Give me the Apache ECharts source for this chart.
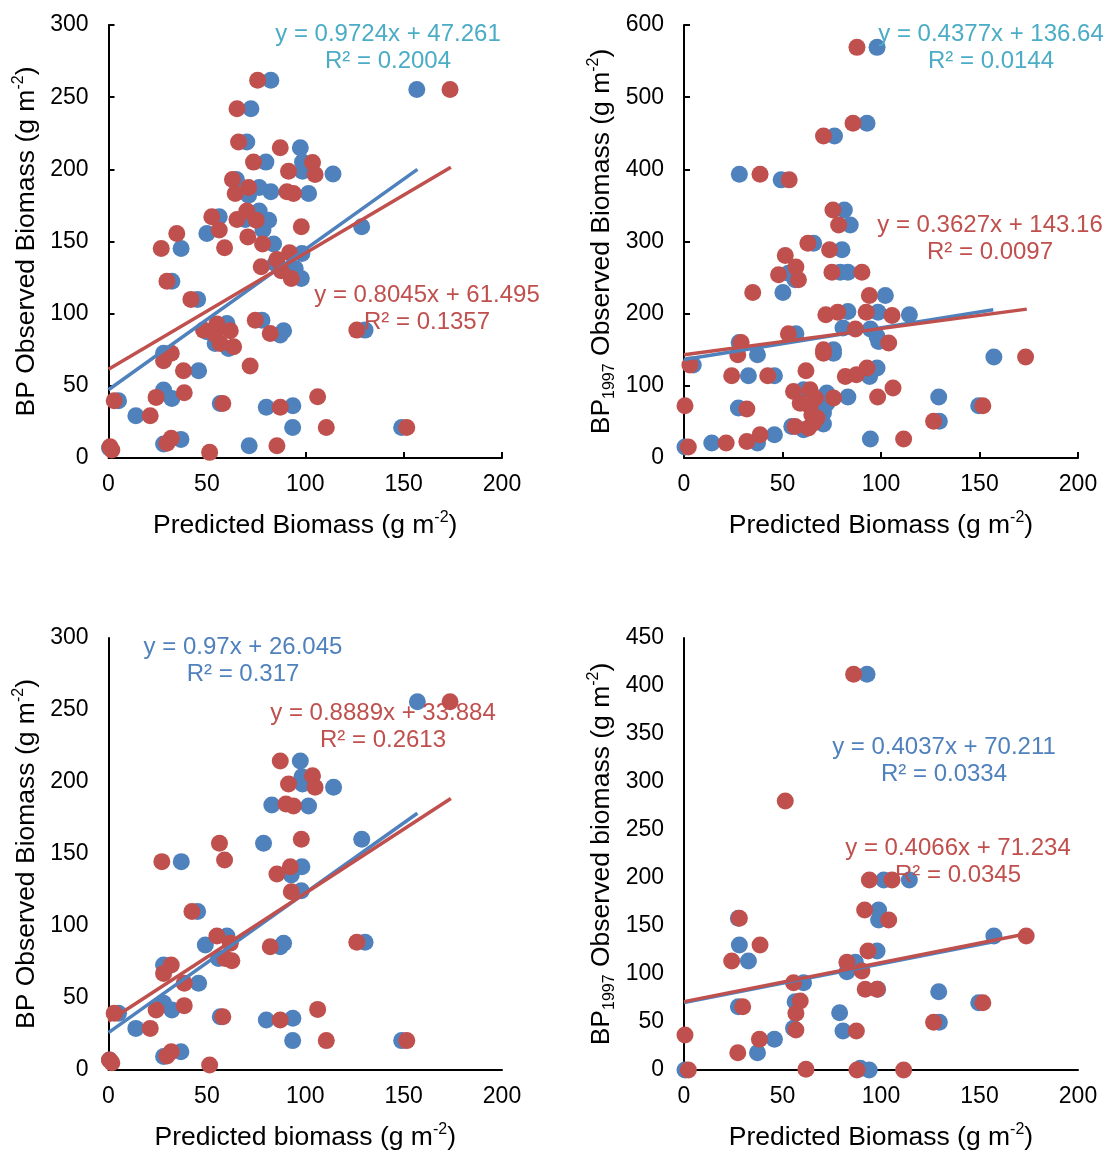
<!DOCTYPE html>
<html>
<head>
<meta charset="utf-8">
<script src="https://cdn.jsdelivr.net/npm/echarts@6/dist/echarts.min.js"></script>
<style>
  html, body { margin: 0; padding: 0; background: #fff; }
  #chart { width: 1107px; height: 1153px; }
</style>
</head>
<body>
<div id="chart"></div>
<script>
// ---- data ----
const xTicks = [0, 50, 100, 150, 200];

// panel 1 (top left): BP vs predicted
const p1Blue = [[82.5,261.7],[72.4,242],[70.3,219],[97.5,214.9],[80,205],[98.6,205],[98.6,198.7],[114.1,196.7],[65,193],[76.6,187.4],[71.2,182.1],[82.5,184.4],[101.7,183.2],[56.3,167.1],[76.6,171.2],[69.5,165.2],[81.4,164.8],[50,155.5],[78.5,157.9],[128.7,160.2],[83.9,148.2],[36.9,145.2],[156.7,255.3],[98.3,141.7],[94.9,131.3],[98,124.4],[84.7,134.8],[32.2,122.5],[45.3,109.9],[78,95.5],[89,88.2],[87.3,85.2],[130.4,88.6],[60.2,93.2],[50,87.5],[54.2,79.4],[61,75.9],[28,72.5],[45.8,60.5],[28,47.1],[32.2,41.3],[5.1,39.7],[13.9,29.3],[56.8,37.8],[80.2,35.1],[93.7,36.2],[93.6,21.2],[149,21.2],[28,9.7],[36.8,12.9],[71.5,8.5],[0.5,7]];
const p1Red = [[75.8,261.7],[65.3,242],[66.1,219],[87.3,214.9],[73.7,205],[91.5,198.7],[103.7,204.7],[105,196.4],[63,193],[71.2,187.4],[64.4,183.2],[90.7,184.4],[94,183.2],[52.5,167.1],[70.3,171.2],[65.3,165.2],[75.1,164.8],[56.3,157.9],[70.8,153.2],[78.3,148.2],[34.7,155.5],[26.8,145.2],[59,145.6],[98,160.2],[173.6,255.3],[77.6,132.5],[85.6,137.5],[92,142.2],[87.8,129.7],[92.9,124.4],[29.7,122.5],[41.9,109.9],[74.6,95.5],[82.2,86.3],[126.2,88.6],[55.1,92.8],[48.3,88.6],[61.9,88.2],[54.2,85.6],[56.8,79.4],[63.6,77.1],[72,63.7],[31.9,72.5],[28,67.4],[38.1,60.5],[24.2,42],[38.5,45.2],[2.9,39.7],[21.2,29.3],[58.1,37.8],[87.3,35.1],[106.3,42.5],[110.7,21.2],[151.6,21.2],[29.7,10.2],[31.9,13.6],[85.6,8.5],[0.8,7.8],[1.7,5.5],[51.4,3.9]];
const p1BlueTrend = [[0, 47.3], [157, 200]];
const p1RedTrend = [[0, 61.5], [174, 201.5]];
const p1BlueEq = ['y = 0.9724x + 47.261', 'R² = 0.2004'];
const p1RedEq = ['y = 0.8045x + 61.495', 'R² = 0.1357'];

// panel 2 (top right): BP1997 vs predicted
const p2Blue = [[98,569],[92.9,463.8],[76.4,446.3],[28.1,393.2],[49.3,385.4],[81.4,343.8],[84.4,323],[65.8,297.7],[80.2,288.5],[56.4,246.9],[53,256],[79.3,257.5],[83.2,257.5],[50.2,229.4],[102.2,225.2],[83.2,203],[98.5,202],[114.4,198.5],[56.8,172],[94.6,178.6],[80.7,180],[98,168.5],[98.8,161.5],[37.3,143],[75.9,150],[75.9,145],[4.7,129],[32.7,114],[45.9,114],[98,124.6],[94.2,113],[83.2,84.5],[129.3,84.5],[129.6,50.8],[149.6,72.5],[157.3,139.8],[94.6,26.3],[60.7,94.6],[72.5,90],[70.8,69.2],[70.8,62.3],[70.8,47],[54.7,43.8],[60.7,39.2],[72.5,76],[27.6,69.2],[14.1,20.8],[37.3,20.8],[45.9,32.3],[0.5,15.2],[28,160]];
const p2Red = [[87.8,569],[85.8,463.8],[70.8,446.3],[38.6,393.2],[53.4,385.4],[75.6,343.8],[78.5,323],[62.9,297.7],[73.9,288.5],[51.4,280.6],[56.8,264.5],[48,253.8],[58.1,246.9],[75.1,257.5],[90.3,257.5],[34.9,229.4],[94.1,225.2],[72,198.5],[78,202],[92.5,202],[105.6,197.5],[53,172],[87,178.6],[103.9,159.2],[29,160.2],[27.3,143],[70.8,150],[70.8,145],[3,129],[24.2,114],[42.5,114],[61.9,121],[81.9,113],[87.5,115.4],[92.9,124.6],[106.1,96.9],[98.3,84.5],[75.9,83],[55.6,92.3],[64,94.6],[66.6,83],[59,76],[64,71.5],[64.9,60],[65.8,48.5],[56.4,43.8],[63.2,41.5],[67.5,55.4],[0.5,72.5],[31.9,67.8],[21.4,20.8],[31.9,23],[38.6,32.3],[2.2,15.2],[126.7,50.8],[151.7,72.5],[173.4,139.8],[111.5,26.3]];
const p2BlueTrend = [[0, 136.6], [157, 205.4]];
const p2RedTrend = [[0, 143.2], [174, 206.3]];
const p2BlueEq = ['y = 0.4377x + 136.64', 'R² = 0.0144'];
const p2RedEq = ['y = 0.3627x + 143.16', 'R² = 0.0097'];

// panel 3 (bottom left)
const p3Blue = [[97.5,214.6],[98.3,203.7],[98.6,198.6],[114.4,196.3],[83,184],[101.7,183.3],[78.8,157.4],[128.7,160.2],[37,144.7],[98.3,141.2],[92.9,135.4],[98,124.5],[45.3,110],[49.2,86.8],[60.2,93],[55.9,77.5],[87.3,85.6],[89,88],[28,72.9],[45.8,60.2],[28,46.3],[32.2,41.7],[5.1,39.4],[13.9,28.9],[56.8,37],[80.2,34.7],[93.7,35.9],[93.6,20.4],[149,20.4],[28,9.3],[36.8,12.7],[157,255.8],[130.4,88.7],[0.5,7]];
const p3Red = [[87.3,214.6],[103.7,204.4],[91.5,198.6],[105,196.3],[90.2,184.7],[94,183.3],[56.4,157.4],[98,160.2],[27.1,144.7],[59,145.8],[85.6,136.1],[92.4,141.2],[92.9,123.8],[42.4,110],[55.1,93],[61.9,88],[59.3,77.5],[62.7,75.9],[82.2,85.6],[31.9,72.9],[28,67.1],[38.5,60.2],[24.2,41.7],[38.5,44.7],[2.9,39.4],[21.2,28.9],[58.1,37],[87.3,34.7],[106.3,42.1],[110.7,20.4],[29.7,9.7],[31.9,12.7],[0.5,7],[1.7,5.1],[51.4,3.5],[173.6,255.8],[126.2,88.7],[151.6,20.4]];
const p3BlueTrend = [[0, 26], [157, 178.3]];
const p3RedTrend = [[0, 33.9], [174, 188.6]];
const p3BlueEq = ['y = 0.97x + 26.045', 'R² = 0.317'];
const p3RedEq = ['y = 0.8889x + 33.884', 'R² = 0.2613'];

// panel 4 (bottom right)
const p4Blue = [[92.9,412.2],[101.4,197.9],[114.4,197.9],[98.8,166.7],[98.8,156.3],[27.6,158],[28.1,130.2],[32.7,113.5],[98,124],[87,112.2],[82.7,102.4],[60.7,91],[98.3,84],[129.3,81.6],[149.6,70.1],[157.3,139.6],[129.6,49.7],[27.6,66],[56.4,71.2],[55.6,43.4],[79,59.7],[80.7,40.6],[45.9,32],[37.3,18],[0.5,0],[89.5,1.7],[94,0]];
const p4Red = [[86.1,412.2],[51.4,280.2],[94.1,197.9],[105.6,197.9],[91.7,166.7],[103.9,156.3],[28.1,158],[38.6,130.2],[24.2,113.5],[93.4,124],[82.7,112.2],[90.3,103.1],[55.6,91],[92,84],[98,84],[151.7,70.1],[173.7,139.6],[126.7,49.7],[111.5,0],[29.8,66],[59,71.9],[56.8,59],[56.8,41.7],[87.5,40.6],[0.5,36.5],[38.3,32],[27.3,18],[2.2,0],[61.9,0.7],[87.8,0]];
const p4BlueTrend = [[0, 70.2], [157, 133.6]];
const p4RedTrend = [[0, 71.2], [174, 142]];
const p4BlueEq = ['y = 0.4037x + 70.211', 'R² = 0.0334'];
const p4RedEq = ['y = 0.4066x + 71.234', 'R² = 0.0345'];

const yMax = [300, 600, 300, 450];
const yStep = [50, 100, 50, 50];
const yTitles = [
  '{a|BP Observed Biomass (g m}{sup|-2}{a|)}',
  '{a|BP}{sub|1997}{a| Observed Biomass (g m}{sup|-2}{a|)}',
  '{a|BP Observed Biomass (g m}{sup|-2}{a|)}',
  '{a|BP}{sub|1997}{a| Observed biomass (g m}{sup|-2}{a|)}'
];
const xTitles = [
  '{a|Predicted Biomass (g m}{sup|-2}{a|)}',
  '{a|Predicted Biomass (g m}{sup|-2}{a|)}',
  '{a|Predicted biomass (g m}{sup|-2}{a|)}',
  '{a|Predicted Biomass (g m}{sup|-2}{a|)}'
];

// ---- styling ----
const BLUE = '#4f81bd';
const RED = '#c0504d';
const TEAL = '#4bacc6';
const FONT = '"Liberation Sans", Arial, sans-serif';

const richTitle = {
  a: { fontSize: 26.5, fontFamily: FONT, color: '#000', lineHeight: 32 },
  sup: { fontSize: 16, fontFamily: FONT, color: '#000', lineHeight: 16, verticalAlign: 'top' },
  sub: { fontSize: 16, fontFamily: FONT, color: '#000', lineHeight: 13, verticalAlign: 'bottom' }
};

const grids = [
  { left: 108.5, top: 25, width: 393.5, height: 433 },
  { left: 684, top: 25, width: 394, height: 433 },
  { left: 108.5, top: 638, width: 393.5, height: 432 },
  { left: 684, top: 638, width: 394, height: 432 }
];

const panels = [
  { blue: p1Blue, red: p1Red, bt: p1BlueTrend, rt: p1RedTrend },
  { blue: p2Blue, red: p2Red, bt: p2BlueTrend, rt: p2RedTrend },
  { blue: p3Blue, red: p3Red, bt: p3BlueTrend, rt: p3RedTrend },
  { blue: p4Blue, red: p4Red, bt: p4BlueTrend, rt: p4RedTrend }
];

const axisLine = { show: true, lineStyle: { color: '#000', width: 2 } };

const xAxes = grids.map((g, i) => ({
  type: 'value', gridIndex: i, min: xTicks[0], max: xTicks[xTicks.length - 1], interval: 50,
  axisLine,
  axisTick: { show: i < 2, inside: true, length: 6, lineStyle: { color: '#000', width: 2 } },
  splitLine: { show: false },
  axisLabel: { fontSize: 23, fontFamily: FONT, color: '#000', margin: 15 },
  name: xTitles[i], nameLocation: 'middle', nameGap: 52,
  nameTextStyle: { rich: richTitle }
}));

const yAxes = grids.map((g, i) => ({
  type: 'value', gridIndex: i, min: 0, max: yMax[i], interval: yStep[i],
  axisLine,
  axisTick: { show: i < 2, inside: true, length: 6, lineStyle: { color: '#000', width: 2 } },
  splitLine: { show: false },
  axisLabel: { fontSize: 23, fontFamily: FONT, color: '#000', margin: 20 },
  name: yTitles[i], nameLocation: 'middle', nameGap: 66, nameRotate: 90,
  nameTextStyle: { rich: richTitle }
}));

const series = [];
panels.forEach((p, i) => {
  series.push({ type: 'scatter', xAxisIndex: i, yAxisIndex: i, data: p.blue,
    symbolSize: 17, itemStyle: { color: BLUE, opacity: 1 }, z: 2 });
  series.push({ type: 'scatter', xAxisIndex: i, yAxisIndex: i, data: p.red,
    symbolSize: 17, itemStyle: { color: RED, opacity: 1 }, z: 3 });
  series.push({ type: 'line', xAxisIndex: i, yAxisIndex: i, data: p.bt, showSymbol: false,
    lineStyle: { color: BLUE, width: 3.5 }, z: 4, silent: true });
  series.push({ type: 'line', xAxisIndex: i, yAxisIndex: i, data: p.rt, showSymbol: false,
    lineStyle: { color: RED, width: 3.5 }, z: 5, silent: true });
});

// equation labels, placed where the spreadsheet left them
const eqLabel = (lines, color, x, y) => ({
  type: 'text', x, y, z: 10,
  style: { text: lines.join('\n'), fill: color, font: '24px ' + FONT,
    align: 'center', verticalAlign: 'top', lineHeight: 27 }
});

const graphic = [
  eqLabel(p1BlueEq, TEAL, 388, 21),
  eqLabel(p1RedEq, RED, 427, 282),
  eqLabel(p2BlueEq, TEAL, 991, 21),
  eqLabel(p2RedEq, RED, 990, 212),
  eqLabel(p3BlueEq, BLUE, 243, 634),
  eqLabel(p3RedEq, RED, 383, 700),
  eqLabel(p4BlueEq, BLUE, 944, 734),
  eqLabel(p4RedEq, RED, 958, 835)
];

const chart = echarts.init(document.getElementById('chart'));
chart.setOption({
  animation: false,
  grid: grids,
  xAxis: xAxes,
  yAxis: yAxes,
  series,
  graphic
});
</script>
</body>
</html>
